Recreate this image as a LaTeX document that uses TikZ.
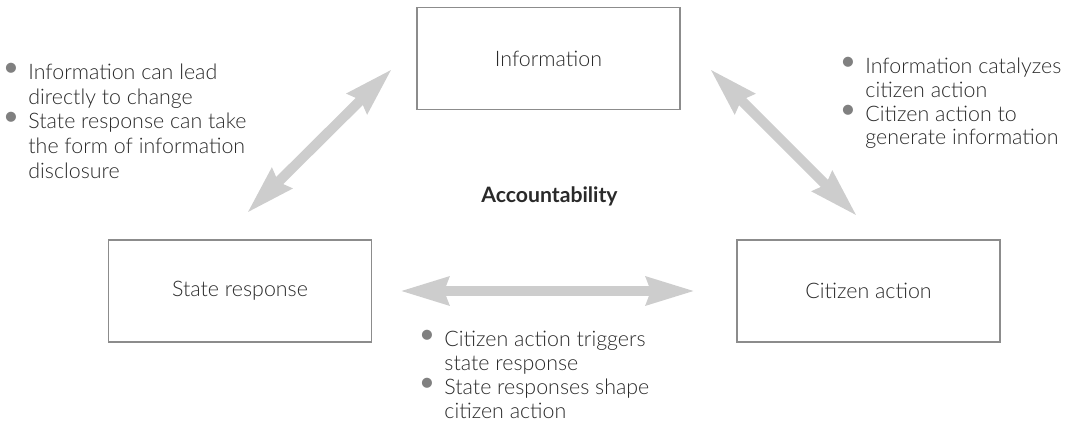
\documentclass[tikz,border=0pt]{standalone}
\usepackage{fontspec}
\setmainfont{Lato}[UprightFont=* Light, BoldFont=* Bold]
\usetikzlibrary{arrows.meta}
\definecolor{boxline}{HTML}{8C8C8C}
\definecolor{arrowgray}{HTML}{CDCDCD}
\definecolor{bulgray}{HTML}{808080}
\definecolor{ink}{HTML}{2A2A2A}
% gray bullet followed by the item text
\newcommand\itemdot{\makebox[8pt][l]{\hspace*{-5.6pt}\textcolor{bulgray}{\raisebox{0.1ex}{\scalebox{1.6}{•}}}}}
\newcommand\itemgap{\hspace*{8pt}}
\tikzset{
  stagebox/.style={draw=boxline, line width=0.7pt, fill=white, text=ink,
    minimum width=131.5pt, minimum height=51pt, inner sep=0pt, outer sep=0pt,
    font=\fontsize{10.7}{12}\selectfont},
  notes/.style={anchor=base west, align=left, text=ink, inner sep=0pt,
    font=\fontsize{10.7}{11.85}\selectfont},
  link/.style={draw=arrowgray, line width=5pt,
    {Stealth[length=24pt,width=13.5pt,inset=2pt]}-{Stealth[length=24pt,width=13.5pt,inset=2pt]}}
}
\begin{document}
\begin{tikzpicture}[x=0.5pt, y=-0.5pt]
\useasboundingbox (0,0) rectangle (1076,444);

% the three stages
\node[stagebox] (info)    at (548.5,58.5) {Information};
\node[stagebox] (state)   at (240,291)    {State response};
\node[stagebox] (citizen) at (868.5,291)  {Citizen action};

\node[text=ink, font=\fontsize{10.6}{12}\selectfont\bfseries] (acc) at (549.5,196) {Accountability};

% ends of the two-way links
\coordinate (infoL)  at (392,69);
\coordinate (stateT) at (247,213);
\coordinate (infoR)  at (710,69);
\coordinate (citT)   at (857,216);
\coordinate (stateR) at (400,291);
\coordinate (citL)   at (695,291);

\draw[link] (stateT) -- (infoL);
\draw[link] (infoR) -- (citT);
\draw[link] (stateR) -- (citL);

% notes on each link (placed by the baseline of their last line)
\node[notes, font=\fontsize{10.7}{12.3}\selectfont] (noteL) at (12,178) {%
  \itemdot Information can lead\\
  \itemgap directly to change\\
  \itemdot State response can take\\
  \itemgap the form of information\\
  \itemgap disclosure};
\node[notes] (noteR) at (849,145) {%
  \itemdot Information catalyzes\\
  \itemgap citizen action\\
  \itemdot Citizen action to\\
  \itemgap generate information};
\node[notes] (noteB) at (428,418) {%
  \itemdot Citizen action triggers\\
  \itemgap state response\\
  \itemdot State responses shape\\
  \itemgap citizen action};
\end{tikzpicture}
\end{document}
